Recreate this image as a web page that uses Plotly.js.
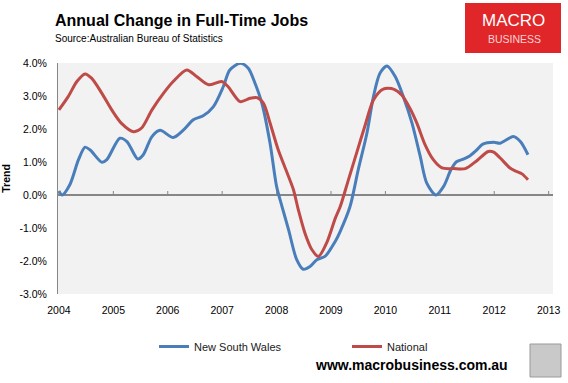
<!DOCTYPE html>
<html>
<head>
<meta charset="utf-8">
<script src="https://cdn.plot.ly/plotly-3.0.1.min.js"></script>
<style>
  html, body { margin: 0; padding: 0; background: #ffffff; }
  #chart { width: 568px; height: 383px; }
</style>
</head>
<body>
<div id="chart"></div>
<script>
// ---- Data ----
var nswYears = [2004.00,2004.06,2004.20,2004.36,2004.48,2004.57,2004.79,2004.88,2005.12,2005.25,2005.45,2005.55,2005.71,2005.86,2006.10,2006.29,2006.47,2006.65,2006.84,2007.02,2007.14,2007.33,2007.48,2007.60,2007.73,2007.88,2008.00,2008.10,2008.22,2008.37,2008.49,2008.62,2008.74,2008.89,2009.08,2009.17,2009.35,2009.50,2009.66,2009.78,2009.90,2010.03,2010.18,2010.33,2010.49,2010.64,2010.76,2010.93,2011.07,2011.20,2011.30,2011.42,2011.55,2011.67,2011.79,2011.99,2012.11,2012.35,2012.48,2012.62];
var nswTrend = [0.12,0.00,0.31,1.07,1.45,1.37,0.99,1.07,1.72,1.62,1.09,1.22,1.77,1.96,1.74,1.97,2.28,2.40,2.68,3.28,3.79,3.99,3.84,3.40,2.78,1.57,0.26,-0.35,-1.05,-1.96,-2.25,-2.16,-1.96,-1.86,-1.40,-1.10,-0.35,0.76,1.87,2.98,3.69,3.91,3.59,2.98,2.17,1.17,0.36,0.00,0.26,0.75,1.00,1.08,1.18,1.35,1.54,1.60,1.57,1.77,1.62,1.22];

var natYears = [2004.00,2004.17,2004.33,2004.48,2004.60,2004.79,2004.97,2005.15,2005.37,2005.52,2005.71,2005.92,2006.10,2006.35,2006.53,2006.75,2006.99,2007.11,2007.33,2007.51,2007.64,2007.76,2007.88,2008.03,2008.22,2008.31,2008.40,2008.52,2008.65,2008.77,2008.92,2009.08,2009.17,2009.32,2009.47,2009.63,2009.78,2009.96,2010.15,2010.30,2010.45,2010.58,2010.73,2010.88,2011.04,2011.25,2011.47,2011.68,2011.89,2011.99,2012.11,2012.29,2012.40,2012.51,2012.62];
var natTrend = [2.58,2.98,3.44,3.67,3.54,3.08,2.58,2.17,1.92,2.03,2.58,3.08,3.44,3.79,3.59,3.34,3.44,3.28,2.83,2.93,2.95,2.78,2.18,1.37,0.56,0.16,-0.45,-1.15,-1.66,-1.86,-1.45,-0.70,-0.35,0.46,1.27,2.13,2.88,3.21,3.21,3.03,2.63,2.17,1.52,1.07,0.82,0.80,0.80,1.04,1.32,1.30,1.12,0.82,0.72,0.64,0.46];

var seriesNames = ['New South Wales', 'National'];
var xTickYears = [2004,2005,2006,2007,2008,2009,2010,2011,2012,2013];
var xTickLabels = ['2004','2005','2006','2007','2008','2009','2010','2011','2012','2013'];
var yTickValues = [-3,-2,-1,0,1,2,3,4];
var yTickLabels = ['-3.0%','-2.0%','-1.0%','0.0%','1.0%','2.0%','3.0%','4.0%'];

// ---- Layout helpers (pixel -> paper) ----
var L = 58, R = 553, T = 63, B = 294;
function px(x) { return (x - L) / (R - L); }
function py(y) { return (B - y) / (B - T); }

var FONT = 'Liberation Sans, Arial, sans-serif';

var traces = [
  { x: nswYears, y: nswTrend, name: seriesNames[0], type: 'scatter', mode: 'lines',
    line: { color: '#4a7ebb', width: 3, shape: 'spline', smoothing: 0.8 }, hoverinfo: 'skip' },
  { x: natYears, y: natTrend, name: seriesNames[1], type: 'scatter', mode: 'lines',
    line: { color: '#be4b48', width: 3, shape: 'spline', smoothing: 0.8 }, hoverinfo: 'skip' }
];

var shapes = [
  // logo box
  { type: 'rect', xref: 'paper', yref: 'paper', x0: px(465), x1: px(561), y0: py(53), y1: py(3),
    fillcolor: '#e1262a', line: { width: 0 }, layer: 'above' },
  // wolf icon placeholder box
  { type: 'rect', xref: 'paper', yref: 'paper', x0: px(530), x1: px(561), y0: py(377), y1: py(344),
    fillcolor: '#c9c9c9', line: { color: '#9a9a9a', width: 1 }, layer: 'above' }
];
// small tick marks above the zero line at each year
xTickYears.forEach(function (yr) {
  shapes.push({ type: 'line', xref: 'x', yref: 'y', ysizemode: 'pixel', yanchor: 0,
    x0: yr, x1: yr, y0: 0, y1: 4, line: { color: '#868686', width: 1 } });
});

var annotations = [
  { text: 'Source:Australian Bureau of Statistics', xref: 'paper', yref: 'paper',
    x: px(53), y: py(39), xanchor: 'left', yanchor: 'middle', showarrow: false,
    font: { family: FONT, size: 10, color: '#000000' } },
  { text: 'MACRO', xref: 'paper', yref: 'paper', x: px(513), y: py(21), xanchor: 'center', yanchor: 'middle',
    showarrow: false, font: { family: FONT, size: 17, color: '#ffffff' } },
  { text: 'BUSINESS', xref: 'paper', yref: 'paper', x: px(514), y: py(38.5), xanchor: 'center', yanchor: 'middle',
    showarrow: false, font: { family: FONT, size: 10.5, color: '#f6d4d4' } },
  { text: 'www.macrobusiness.com.au', xref: 'paper', yref: 'paper', x: px(313), y: py(365),
    xanchor: 'left', yanchor: 'middle', showarrow: false,
    font: { family: FONT, size: 14, color: '#000000', weight: 'bold' } }
];

var layout = {
  width: 568, height: 383,
  margin: { l: L, r: 568 - R, t: T, b: 383 - B, pad: 0 },
  paper_bgcolor: '#ffffff',
  plot_bgcolor: '#f2f2f2',
  showlegend: true,
  title: { text: '<b>Annual Change in Full-Time Jobs</b>', xref: 'container', yref: 'container',
    x: 55 / 568, y: 1 - 20 / 383, xanchor: 'left', yanchor: 'middle',
    font: { family: FONT, size: 16, color: '#000000' } },
  xaxis: {
    range: [2003.983, 2013.08], tickmode: 'array', tickvals: xTickYears, ticktext: xTickLabels,
    showgrid: false, zeroline: false, showline: false, ticks: '',
    ticklabelstandoff: 8,
    tickfont: { family: FONT, size: 10.5, color: '#000000' }, fixedrange: true
  },
  yaxis: {
    range: [-3, 4], tickmode: 'array', tickvals: yTickValues, ticktext: yTickLabels,
    showgrid: false, zeroline: true, zerolinecolor: '#868686', zerolinewidth: 1.5,
    showline: true, linecolor: '#868686', linewidth: 1, ticks: '',
    ticklabelstandoff: 8,
    tickfont: { family: FONT, size: 10.5, color: '#000000' },
    title: { text: '<b>Trend</b>', standoff: 10, font: { family: FONT, size: 10.5, color: '#000000' } },
    fixedrange: true
  },
  legend: {
    orientation: 'h', xref: 'paper', yref: 'paper', x: px(154), y: py(332),
    xanchor: 'left', yanchor: 'top', bgcolor: 'rgba(0,0,0,0)',
    entrywidth: 148, entrywidthmode: 'pixels',
    font: { family: FONT, size: 11, color: '#1a1a1a' }
  },
  shapes: shapes,
  annotations: annotations
};

Plotly.newPlot('chart', traces, layout, { displayModeBar: false, staticPlot: true });
</script>
</body>
</html>
